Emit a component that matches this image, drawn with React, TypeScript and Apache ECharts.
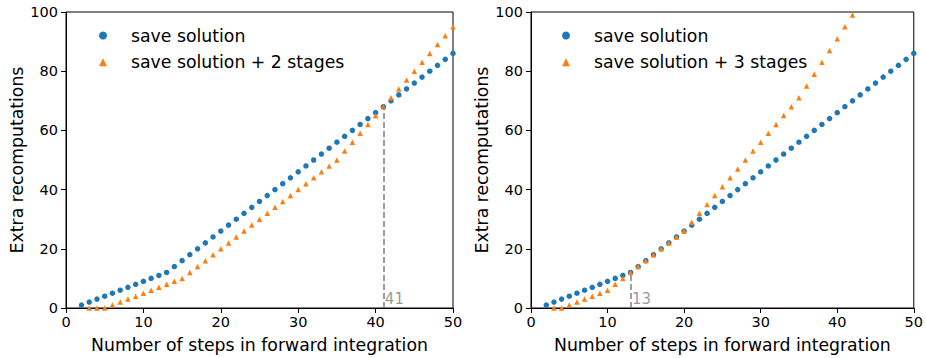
import React, { useEffect, useRef } from "react";
import * as echarts from "echarts";

const FONT = "DejaVu Sans";
const BLUE = "#1f77b4";
const ORANGE = "#ff7f0e";

// x values (number of steps)
const stepsSave = [2,3,4,5,6,7,8,9,10,11,12,13,14,15,16,17,18,19,20,21,22,23,24,25,26,27,28,29,30,31,32,33,34,35,36,37,38,39,40,41,42,43,44,45,46,47,48,49,50];
const saveSolution = [1,2,3,4,5,6,7,8,9,10,11,12,14,16,18,20,22,24,26,28,30,32,34,36,38,40,42,44,46,48,50,52,54,56,58,60,62,64,66,68,70,72,74,76,78,80,82,84,86];

const steps2Stages = [3,4,5,6,7,8,9,10,11,12,13,14,15,16,17,18,19,20,21,22,23,24,25,26,27,28,29,30,31,32,33,34,35,36,37,38,39,40,41,42,43,44,45,46,47,48,49,50];
const save2Stages = [0,0,0,1,2,3,4,5,6,7,8,9,10,12,14,16,18,20,22,24,26,28,30,32,34,36,38,40,42,44,46,48,50,53,56,59,62,65,68,71,74,77,80,83,86,89,92,95];

const steps3Stages = [3,4,5,6,7,8,9,10,11,12,13,14,15,16,17,18,19,20,21,22,23,24,25,26,27,28,29,30,31,32,33,34,35,36,37,38,39,40,41,42];
const save3Stages = [0,0,1,2,3,4,5,6,8,10,12,14,16,18,20,22,24,26,29,32,35,38,41,44,47,50,53,56,59,62,65,68,71,75,79,83,87,91,95,99];

const crossLeft = 41;
const crossRight = 13;

const xTicks = { min: 0, max: 50, interval: 10 };
const yTicks = { min: 0, max: 100, interval: 20 };

const NAME_SAVE = "save solution";
const NAME_2 = "save solution + 2 stages";
const NAME_3 = "save solution + 3 stages";

function pairs(xs: number[], ys: number[]) {
  return xs.map((x, i) => [x, ys[i]]);
}
function valueAt(xs: number[], ys: number[], x: number) {
  return ys[xs.indexOf(x)];
}

export default function App() {
  const ref = useRef<HTMLDivElement>(null);
  useEffect(() => {
    if (!ref.current) return;
    const chart = echarts.init(ref.current, undefined, { renderer: "svg" });
    const grids = [
      { left: 66, top: 12, width: 387, height: 301 },
      { left: 531, top: 12, width: 386, height: 301 },
    ];
    const axisCommon = {
      type: "value" as const,
      axisLine: { show: true, onZero: false, lineStyle: { color: "#000", width: 1 } },
      axisTick: { show: true, inside: false, length: 5, lineStyle: { color: "#000", width: 1 } },
      splitLine: { show: false },
      nameLocation: "middle" as const,
      nameTextStyle: { fontFamily: FONT, fontSize: 17.3, color: "#000" },
    };
    const xAxis = [0, 1].map((g) => ({
      ...axisCommon,
      gridIndex: g,
      ...xTicks,
      name: "Number of steps in forward integration",
      nameGap: 28,
      axisLabel: { fontFamily: FONT, fontSize: 14.5, color: "#000", margin: 6 },
    }));
    const yAxis = [0, 1].map((g) => ({
      ...axisCommon,
      gridIndex: g,
      ...yTicks,
      name: "Extra recomputations",
      nameGap: 41,
      axisLabel: { fontFamily: FONT, fontSize: 14.5, color: "#000", margin: 8 },
    }));
    const legendCommon = {
      orient: "vertical" as const,
      top: 20.5,
      itemWidth: 8,
      itemHeight: 8,
      itemGap: 6.7,
      textStyle: { fontFamily: FONT, fontSize: 17.3, color: "#000", lineHeight: 20, padding: [0, 0, 0, 19] },
      selectedMode: false,
    };
    const dashed = (x: number, y: number) => ({
      silent: true,
      symbol: ["none", "none"],
      label: { show: false },
      lineStyle: { color: "#808080", type: [6, 3], width: 1.5, opacity: 1 },
      data: [[{ coord: [x, 0] }, { coord: [x, y] }]],
    });
    const markLabel = (g: number, x: number) => ({
      type: "scatter" as const,
      name: "mark" + g,
      xAxisIndex: g,
      yAxisIndex: g,
      symbolSize: 1,
      silent: true,
      itemStyle: { color: "rgba(0,0,0,0)" },
      data: [[x, 0]],
      label: {
        show: true,
        formatter: String(x),
        position: [2, -16],
        align: "left",
        verticalAlign: "top",
        fontFamily: FONT,
        fontSize: 15,
        color: "#808080",
      },
      z: 5,
    });
    chart.setOption({
      animation: false,
      grid: grids.map((g) => ({ ...g, show: true, borderColor: "#000", borderWidth: 1, backgroundColor: "transparent" })),
      xAxis,
      yAxis,
      legend: [
        {
          ...legendCommon,
          left: 94,
          data: [
            { name: NAME_SAVE, icon: "circle" },
            { name: NAME_2, icon: "triangle" },
          ],
        },
        {
          ...legendCommon,
          left: 557,
          data: [
            { name: NAME_SAVE, icon: "circle" },
            { name: NAME_3, icon: "triangle" },
          ],
        },
      ],
      series: [
        {
          type: "scatter",
          name: NAME_SAVE,
          xAxisIndex: 0,
          yAxisIndex: 0,
          symbol: "circle",
          symbolSize: 5.5,
          itemStyle: { color: BLUE, opacity: 1 },
          data: pairs(stepsSave, saveSolution),
        },
        {
          type: "scatter",
          name: NAME_2,
          xAxisIndex: 0,
          yAxisIndex: 0,
          symbol: "triangle",
          symbolSize: 5.5,
          itemStyle: { color: ORANGE, opacity: 1 },
          data: pairs(steps2Stages, save2Stages),
          markLine: dashed(crossLeft, valueAt(stepsSave, saveSolution, crossLeft)),
        },
        {
          type: "scatter",
          name: NAME_SAVE,
          xAxisIndex: 1,
          yAxisIndex: 1,
          symbol: "circle",
          symbolSize: 5.5,
          itemStyle: { color: BLUE, opacity: 1 },
          data: pairs(stepsSave, saveSolution),
        },
        {
          type: "scatter",
          name: NAME_3,
          xAxisIndex: 1,
          yAxisIndex: 1,
          symbol: "triangle",
          symbolSize: 5.5,
          itemStyle: { color: ORANGE, opacity: 1 },
          data: pairs(steps3Stages, save3Stages),
          markLine: dashed(crossRight, valueAt(stepsSave, saveSolution, crossRight)),
        },
        markLabel(0, crossLeft),
        markLabel(1, crossRight),
      ],
    });
    return () => chart.dispose();
  }, []);
  return (
    <div
      ref={ref}
      style={{ position: "fixed", left: 0, top: 0, width: 926, height: 358, background: "#fff" }}
    />
  );
}
